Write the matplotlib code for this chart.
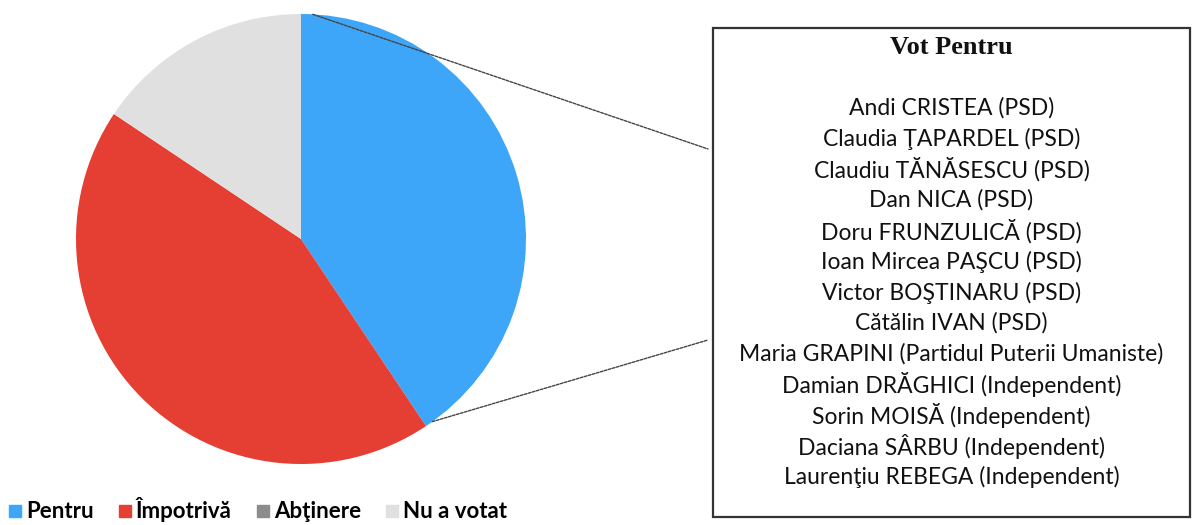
import numpy as np
import matplotlib.pyplot as plt
from matplotlib.lines import Line2D
from matplotlib.patches import ConnectionPatch, Rectangle

W, H = 1195, 525

labels = ["Pentru", "Împotrivă", "Abţinere", "Nu a votat"]
votes = [13, 14, 0, 5]
colors = ["#3DA6F8", "#E53E33", "#8C8C8C", "#E0E0E0"]

box_title = "Vot Pentru"
names = [
    "Andi CRISTEA (PSD)",
    "Claudia ŢAPARDEL (PSD)",
    "Claudiu TĂNĂSESCU (PSD)",
    "Dan NICA (PSD)",
    "Doru FRUNZULICĂ (PSD)",
    "Ioan Mircea PAŞCU (PSD)",
    "Victor BOŞTINARU (PSD)",
    "Cătălin IVAN (PSD)",
    "Maria GRAPINI (Partidul Puterii Umaniste)",
    "Damian DRĂGHICI (Independent)",
    "Sorin MOISĂ (Independent)",
    "Daciana SÂRBU (Independent)",
    "Laurenţiu REBEGA (Independent)",
]


def fx(px):
    return px / W


def fy(py):
    return 1 - py / H


fig = plt.figure(figsize=(W / 100, H / 100), dpi=100)

# pie axes, placed in pixel space
cx, cy, r = 301, 239, 225
ax = fig.add_axes([fx(cx - r), fy(cy + r), 2 * r / W, 2 * r / H])
wedges, _ = ax.pie(votes, colors=colors, startangle=90, counterclock=False,
                   radius=1.0, wedgeprops=dict(linewidth=0))
ax.set_xlim(-1, 1)
ax.set_ylim(-1, 1)
ax.set_aspect("equal")
ax.set_axis_off()

# box listing the names
bx0, by0, bx1, by1 = 713, 28, 1190, 517
box = Rectangle((fx(bx0), fy(by1)), fx(bx1) - fx(bx0), fy(by0) - fy(by1),
                transform=fig.transFigure, facecolor="white",
                edgecolor="#333333", linewidth=1.6)
fig.add_artist(box)

bcx = (bx0 + bx1) / 2
fig.text(fx(bcx), fy(47), box_title, ha="center", va="center",
         fontsize=19, weight="bold", family="Liberation Serif", color="#111111")
for i, name in enumerate(names):
    fig.text(fx(bcx), fy(108 + i * 30.75), name, ha="center", va="center",
             fontsize=16.5, family="Lato", color="#111111")

# connector lines from the Pentru wedge to the box
w = wedges[0]
for ang, ty in [(w.theta2 - 3, 149), (w.theta1 + 2, 340)]:
    a = np.deg2rad(ang)
    con = ConnectionPatch(xyA=(np.cos(a), np.sin(a)), coordsA=ax.transData,
                          xyB=(fx(708), fy(ty)), coordsB=fig.transFigure,
                          color="#444444", linewidth=1.0, linestyle=(0, (2, 1)))
    fig.add_artist(con)

# legend
handles = [Line2D([], [], marker="s", linestyle="none", markersize=9,
                  markerfacecolor=c, markeredgecolor=c) for c in colors]
leg = fig.legend(handles, labels, loc="center left",
                 bbox_to_anchor=(fx(6), fy(510)),
                 ncol=4, frameon=False, handletextpad=0.1, columnspacing=1.0,
                 handlelength=0.8, borderaxespad=0, borderpad=0,
                 prop=dict(family="Lato", weight="bold", size=16))

fig.savefig("out.png", dpi=100)
